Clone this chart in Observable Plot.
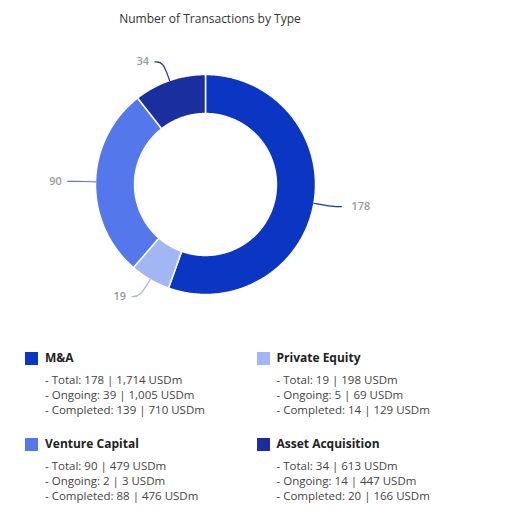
<!DOCTYPE html>
<html>
<head>
<meta charset="utf-8">
<script src="https://cdn.jsdelivr.net/npm/d3@7"></script>
<script src="https://cdn.jsdelivr.net/npm/@observablehq/plot@0.6"></script>
<style>
  body { margin: 0; background: #fff; font-family: "Open Sans", sans-serif; width: 509px; }
  #title { width: 420px; height: 34px; box-sizing: border-box; padding-top: 4px; line-height: 30px; text-align: center; font-size: 12px; color: #333; }
  #legend { position: relative; height: 198px; }
  .item { position: absolute; }
  .head { position: relative; height: 16px; line-height: 16px; font-size: 12px; font-weight: 700; color: #222; padding-left: 20px; }
  .sw { position: absolute; left: 0; top: 2px; width: 13px; height: 13px; }
  .lines { margin-top: 5.5px; padding-left: 20px; font-size: 11.5px; color: #444; line-height: 15px; }
</style>
</head>
<body>
<div id="title">Number of Transactions by Type</div>
<div id="chart"></div>
<div id="legend"></div>
<script>
const categories = ["M&A", "Private Equity", "Venture Capital", "Asset Acquisition"];
const counts = [178, 19, 90, 34];
const totalUSDm = ["1,714", "198", "479", "613"];
const ongoingCounts = [39, 5, 2, 14];
const ongoingUSDm = ["1,005", "69", "3", "447"];
const completedCounts = [139, 14, 88, 20];
const completedUSDm = ["710", "129", "476", "166"];
const colors = ["#0b35c3", "#a3b6f4", "#5577ec", "#1a2ea0"];

const R = 1, r0 = 0.645, elbowR = 1.18, tail = 8 / 110;
const arcs = d3.pie().sort(null)(counts);

// donut polygons built from the pie layout
const ring = [];
arcs.forEach((a, i) => {
  const n = Math.max(4, Math.ceil((a.endAngle - a.startAngle) / 0.01));
  const outer = d3.range(n + 1).map(k => a.startAngle + (a.endAngle - a.startAngle) * k / n);
  outer.forEach(t => ring.push({cat: categories[i], x: R * Math.sin(t), y: R * Math.cos(t)}));
  outer.slice().reverse().forEach(t => ring.push({cat: categories[i], x: r0 * Math.sin(t), y: r0 * Math.cos(t)}));
});

// connectors and labels
const conn = [];
const labels = [];
arcs.forEach((a, i) => {
  const m = (a.startAngle + a.endAngle) / 2;
  const s = Math.sin(m), c = Math.cos(m);
  const side = s >= 0 ? 1 : -1;
  const ex = elbowR * s, ey = elbowR * c;
  conn.push({cat: categories[i], x: R * s, y: R * c});
  conn.push({cat: categories[i], x: ex, y: ey});
  conn.push({cat: categories[i], x: ex + side * tail, y: ey});
  labels.push({cat: categories[i], value: counts[i], x: ex + side * tail, y: ey, side});
});

const chart = Plot.plot({
  width: 509,
  height: 300,
  margin: 0,
  x: {domain: [-205 / 110, 304 / 110], axis: null},
  y: {domain: [-150 / 110, 150 / 110], axis: null},
  color: {domain: categories, range: colors},
  style: {fontFamily: "Open Sans, sans-serif", background: "#fff"},
  marks: [
    Plot.line(ring, {x: "x", y: "y", z: "cat", fill: "cat", stroke: "white", strokeWidth: 1.5, curve: "linear-closed"}),
    Plot.line(conn, {x: "x", y: "y", z: "cat", stroke: "cat", strokeWidth: 1.2, curve: "basis"}),
    Plot.text(labels.filter(d => d.side > 0), {x: "x", y: "y", text: "value", textAnchor: "start", dx: 10, fill: "#9a9a9a", fontSize: 11, fontWeight: 600}),
    Plot.text(labels.filter(d => d.side < 0), {x: "x", y: "y", text: "value", textAnchor: "end", dx: -6, fill: "#9a9a9a", fontSize: 11, fontWeight: 600})
  ]
});
document.getElementById("chart").appendChild(chart);

// legend
const legend = document.getElementById("legend");
const pos = [[25, 16], [256.5, 16], [25, 102], [256.5, 102]];
categories.forEach((cat, i) => {
  const div = document.createElement("div");
  div.className = "item";
  div.style.left = pos[i][0] + "px";
  div.style.top = pos[i][1] + "px";
  div.innerHTML =
    `<div class="head"><span class="sw" style="background:${colors[i]}"></span>${cat.replace("&", "&amp;")}</div>` +
    `<div class="lines">- Total: ${counts[i]} | ${totalUSDm[i]} USDm<br>- Ongoing: ${ongoingCounts[i]} | ${ongoingUSDm[i]} USDm<br>- Completed: ${completedCounts[i]} | ${completedUSDm[i]} USDm</div>`;
  legend.appendChild(div);
});
</script>
</body>
</html>
